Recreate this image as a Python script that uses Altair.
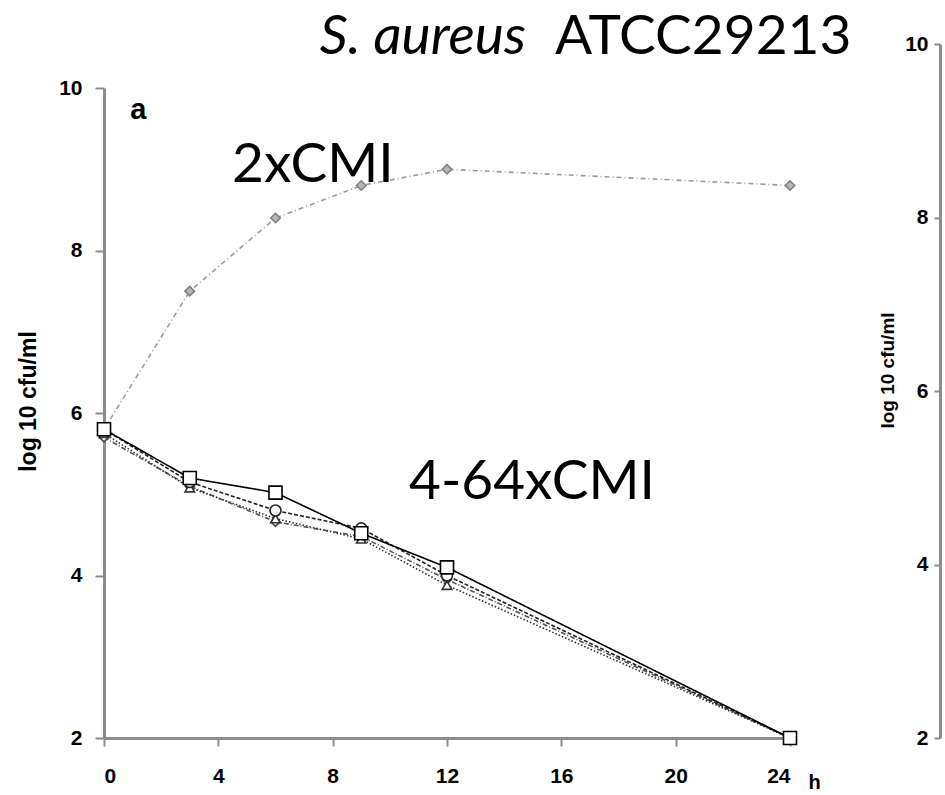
import altair as alt
import pandas as pd

# ---- data ----
hours = [0, 3, 6, 9, 12, 24]
cmi2 = [5.8, 7.5, 8.4, 8.8, 9.0, 8.8]
cmi4 = [5.8, 5.2, 5.02, 4.52, 4.1, 2.0]
cmi8 = [5.8, 5.15, 4.8, 4.58, 4.0, 2.0]
cmi16 = [5.75, 5.08, 4.7, 4.45, 3.88, 2.0]
cmi32 = [5.7, 5.1, 4.66, 4.48, 3.95, 2.0]

x_ticks = [0, 4, 8, 12, 16, 20, 24]
y_ticks = [2, 4, 6, 8, 10]
right_ticks = [2, 4, 6, 8, 10]

series = {
    "2xCMI": cmi2,
    "32xCMI": cmi32,
    "16xCMI": cmi16,
    "8xCMI": cmi8,
    "4xCMI": cmi4,
}
styles = {
    "2xCMI": dict(color="#9a9a9a", dash=[5, 3, 1, 3], shape="diamond", size=90, fill="#b5b5b5", stroke="#808080"),
    "32xCMI": dict(color="#555555", dash=[5, 2, 1, 2], shape="diamond", size=80, fill="white", stroke="#444444"),
    "16xCMI": dict(color="#333333", dash=[1.5, 2], shape="triangle-up", size=90, fill="white", stroke="#333333"),
    "8xCMI": dict(color="#222222", dash=[4, 2], shape="circle", size=120, fill="white", stroke="#222222"),
    "4xCMI": dict(color="#000000", dash=[1, 0], shape="square", size=170, fill="white", stroke="#000000"),
}

ann_text = ["2xCMI", "4-64xCMI"]
ann_h = [4.48, 10.67]
ann_v = [8.84, 4.94]

W, H = 686, 650
AXC = "#8c8c8c"
BIG = "Lato"
LAB = "Liberation Sans"

xscale = alt.Scale(domain=[0, 24], nice=False)
yscale = alt.Scale(domain=[2, 10], nice=False)

x_axis = alt.Axis(values=x_ticks, title="h", grid=False, domainColor=AXC, domainWidth=3,
                  tickColor=AXC, tickWidth=2, tickSize=8, labelPadding=19,
                  labelFont=LAB, labelFontWeight="bold", labelFontSize=21,
                  labelColor="black", titleFont=LAB, titleFontWeight="bold",
                  titleFontSize=20, titleX=704, titleY=44, titleAlign="left", titleBaseline="middle")
y_axis = alt.Axis(values=y_ticks, title="log 10 cfu/ml", grid=False, domainColor=AXC, domainWidth=3,
                  tickColor=AXC, tickWidth=2, tickSize=9, labelPadding=13,
                  labelFont=LAB, labelFontWeight="bold", labelFontSize=21,
                  labelColor="black", titleFont=LAB, titleFontWeight="bold",
                  titleFontSize=23, titleX=-76, titleY=313, titleBaseline="middle", titleAngle=270)

X = alt.X("h:Q", scale=xscale, axis=x_axis)
Y = alt.Y("v:Q", scale=yscale, axis=y_axis)

layers = []
for name, vals in series.items():
    df = pd.DataFrame({"h": hours, "v": vals, "s": name})
    st = styles[name]
    base = alt.Chart(df)
    line = base.mark_line(color=st["color"], strokeDash=st["dash"], strokeWidth=1.6).encode(x=X, y=Y)
    pts = base.mark_point(shape=st["shape"], size=st["size"], filled=True, fill=st["fill"],
                          stroke=st["stroke"], strokeWidth=1.6, opacity=1).encode(x=X, y=Y)
    layers += [line, pts]

ann_df = pd.DataFrame({"t": ann_text, "h": ann_h, "v": ann_v})
ann = alt.Chart(ann_df).mark_text(font=BIG, fontSize=55, align="left", baseline="alphabetic",
                                  color="black").encode(x=X, y=Y, text="t:N")

title1 = alt.Chart(pd.DataFrame({"t": ["S. aureus"], "h": [14.76], "v": [10.42]})).mark_text(
    font=BIG, fontSize=55, fontStyle="italic", align="right", baseline="alphabetic",
    color="black").encode(x=X, y=Y, text="t:N")
title2 = alt.Chart(pd.DataFrame({"t": ["ATCC29213"], "h": [15.78], "v": [10.42]})).mark_text(
    font=BIG, fontSize=55, align="left", baseline="alphabetic",
    color="black").encode(x=X, y=Y, text="t:N")
panel = alt.Chart(pd.DataFrame({"t": ["a"], "h": [1.2], "v": [9.62]})).mark_text(
    font=LAB, fontSize=29, fontWeight="bold", align="center", baseline="alphabetic",
    color="black").encode(x=X, y=Y, text="t:N")

main = alt.layer(*layers, ann, title1, title2, panel)

right_axis = alt.Axis(values=right_ticks, title="log 10 cfu/ml", orient="left", offset=-836, grid=False,
                      domainColor=AXC, domainWidth=3, tickColor=AXC, tickWidth=2, tickSize=6,
                      labelPadding=6, labelFont=LAB, labelFontWeight="bold",
                      labelFontSize=21, labelColor="black", titleFont=LAB,
                      titleFontWeight="bold", titleFontSize=19, titleX=-53, titleY=282,
                      titleBaseline="middle", titleAngle=270)
right = alt.Chart(pd.DataFrame({"v": right_ticks})).mark_point(opacity=0).encode(
    y=alt.Y("v:Q", scale=alt.Scale(domain=[2, 10], range=[650, -44], nice=False), axis=right_axis))

chart = alt.layer(main, right).resolve_scale(y="independent").properties(
    width=W, height=H,
    autosize=alt.AutoSizeParams(type="none"),
    padding={"left": 104, "top": 88, "right": 155, "bottom": 57},
    background="white",
).configure_view(stroke=None)

chart.save("out.html", embed_options={"renderer": "svg", "actions": False})
